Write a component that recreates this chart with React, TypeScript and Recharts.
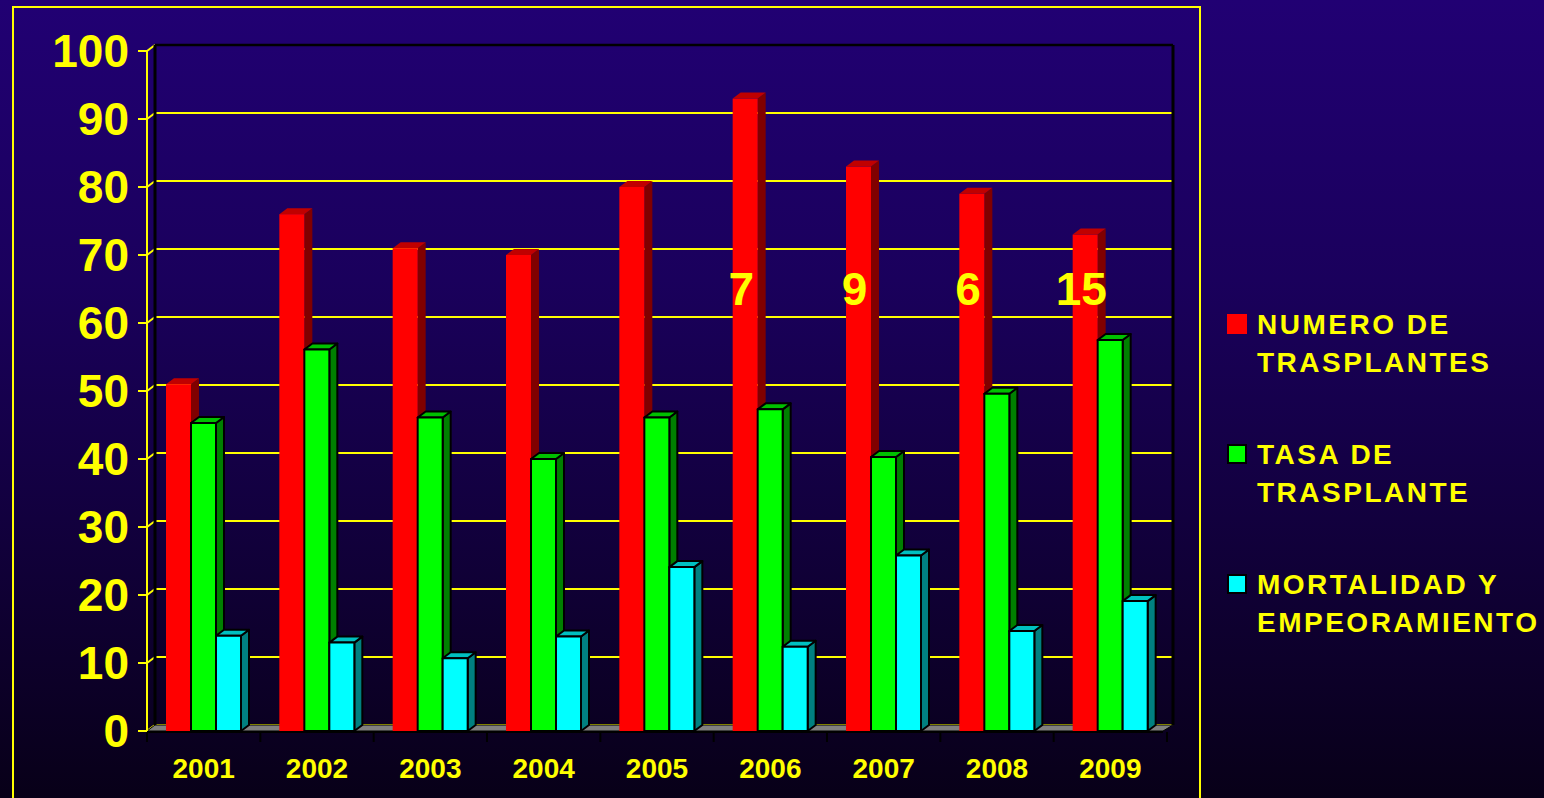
import React from 'react';
import { ComposedChart, Bar, XAxis, YAxis, CartesianGrid, Legend, ReferenceDot } from 'recharts';

const years = ['2001', '2002', '2003', '2004', '2005', '2006', '2007', '2008', '2009'];
const trasplantes = [51, 76, 71, 70, 80, 93, 83, 79, 73];
const tasa = [45.3, 56.1, 46.1, 40, 46.1, 47.3, 40.3, 49.6, 57.5];
const mortalidad = [14, 13, 10.7, 13.9, 24.1, 12.4, 25.8, 14.7, 19.1];
const yTicks = [0, 10, 20, 30, 40, 50, 60, 70, 80, 90, 100];
const noteYears = ['2006', '2007', '2008', '2009'];
const noteTexts = ['7', '9', '6', '15'];
const seriesNames = ['NUMERO DE\nTRASPLANTES', 'TASA DE\nTRASPLANTE', 'MORTALIDAD Y\nEMPEORAMIENTO'];
const seriesColors = ['#ff0000', '#00ff00', '#00ffff'];

const data = years.map((year, i) => ({ year, a: trasplantes[i], b: tasa[i], c: mortalidad[i] }));

const FONT = '"Liberation Sans", Arial, Helvetica, sans-serif';
const YELLOW = '#ffff00';
const DX = 8;
const DY = -6;
const NOTE_LEVEL = 65;

const make3D = (front: string, top: string, side: string, outline: boolean) => (props: any) => {
  const { x, y, width: w, height: h } = props;
  if (x == null || y == null || !w || h == null) return <g />;
  const st = outline
    ? { stroke: '#000', strokeWidth: 2, strokeLinejoin: 'round' as const }
    : { stroke: 'none' };
  return (
    <g>
      <polygon
        points={`${x + w},${y} ${x + w + DX},${y + DY} ${x + w + DX},${y + h + DY} ${x + w},${y + h}`}
        fill={side}
        {...st}
      />
      <polygon
        points={`${x},${y} ${x + DX},${y + DY} ${x + w + DX},${y + DY} ${x + w},${y}`}
        fill={top}
        {...st}
      />
      <rect x={x} y={y} width={w} height={h} fill={front} {...st} />
    </g>
  );
};

const redShape = make3D('#ff0000', '#c00000', '#800000', false);
const greenShape = make3D('#00ff00', '#00c000', '#008000', true);
const cyanShape = make3D('#00ffff', '#00c0c0', '#008080', true);

const gridLine = (p: any) => {
  const { x1, y1, x2, key } = p;
  return (
    <g key={key}>
      <line x1={x1} y1={y1} x2={x1 + DX} y2={y1 + DY} stroke={YELLOW} strokeWidth={2} />
      <line x1={x1 + DX} y1={y1 + DY} x2={x2 + DX - 2} y2={y1 + DY} stroke={YELLOW} strokeWidth={2} />
    </g>
  );
};

const topEdge = (p: any) => {
  const { x1, y1, x2, key } = p;
  return <line key={key} x1={x1 + DX} y1={y1 + DY} x2={x2 + DX - 2} y2={y1 + DY} stroke="#000" strokeWidth={2.5} />;
};

const wallEdge = (p: any) => {
  const { x1, y1, y2, key } = p;
  return <line key={key} x1={x1 + DX} y1={y1 + DY} x2={x1 + DX} y2={y2 + DY} stroke="#000" strokeWidth={3} />;
};

const floorEdge = (p: any) => {
  const { x1, y1, x2, key } = p;
  return (
    <g key={key}>
      <polygon points={`${x1},${y1} ${x1 + DX},${y1 + DY} ${x2 + DX - 2},${y1 + DY} ${x2 - 4},${y1}`} fill="#808080" stroke="#000" strokeWidth={1} />
      <line x1={x1} y1={y1 + 1} x2={x2 - 4} y2={y1 + 1} stroke="#000" strokeWidth={2} />
    </g>
  );
};

const catTick = (p: any) => {
  const { x1, y2, key } = p;
  return <line key={key} x1={x1} y1={y2 + 1} x2={x1} y2={y2 + 11} stroke="#000" strokeWidth={2} />;
};

const YTick = (props: any) => {
  const { x, y, payload } = props;
  return (
    <text x={x} y={y} dy={16} textAnchor="end" fill={YELLOW} fontSize={46} fontWeight={700} fontFamily={FONT}>
      {payload.value}
    </text>
  );
};

const XTick = (props: any) => {
  const { x, y, payload } = props;
  return (
    <text x={x} y={y + 47} textAnchor="middle" fill={YELLOW} fontSize={28} fontWeight={700} fontFamily={FONT}>
      {payload.value}
    </text>
  );
};

const renderLegend = () => (
  <div
    style={{
      fontFamily: FONT,
      fontWeight: 700,
      fontSize: 28,
      lineHeight: '38px',
      letterSpacing: '2.5px',
      color: YELLOW,
    }}
  >
    {seriesNames.map((name, i) => (
      <div key={name} style={{ position: 'relative', height: 130, paddingLeft: 30, whiteSpace: 'pre-line' }}>
        <span
          style={{
            position: 'absolute',
            left: 0,
            top: 8,
            width: 20,
            height: 20,
            background: seriesColors[i],
            border: i > 0 ? '2px solid #000' : 'none',
            boxSizing: 'border-box',
          }}
        />
        {name}
      </div>
    ))}
  </div>
);

export default function App() {
  return (
    <div
      style={{
        position: 'absolute',
        left: 0,
        top: 0,
        width: 1544,
        height: 798,
        overflow: 'hidden',
        background: 'linear-gradient(180deg, #210073 0%, #1a005c 35%, #12003e 65%, #080018 100%)',
      }}
    >
      <div
        style={{
          position: 'absolute',
          left: 12,
          top: 6,
          width: 1189,
          height: 840,
          border: '2px solid #ffff00',
          boxSizing: 'border-box',
        }}
      />
      <ComposedChart
        width={1544}
        height={798}
        data={data}
        margin={{ top: 51, right: 377, bottom: 0, left: 0 }}
        barSize={25}
        barGap={0}
      >
        <CartesianGrid horizontal={gridLine} vertical={false} stroke={YELLOW} />
        <CartesianGrid
          horizontalCoordinatesGenerator={({ offset }: any) => [offset.top]}
          verticalCoordinatesGenerator={({ offset }: any) => [offset.left, offset.left + offset.width - 2]}
          horizontal={topEdge}
          vertical={wallEdge}
        />
        <CartesianGrid
          horizontalCoordinatesGenerator={({ offset }: any) => [offset.top + offset.height]}
          verticalCoordinatesGenerator={({ offset }: any) =>
            years.map((_, i) => offset.left + (i * offset.width) / years.length).concat([offset.left + offset.width])
          }
          horizontal={floorEdge}
          vertical={catTick}
        />
        <XAxis
          dataKey="year"
          height={67}
          axisLine={false}
          tickLine={false}
          tickSize={0}
          tickMargin={0}
          tick={<XTick />}
          interval={0}
        />
        <YAxis
          width={147}
          domain={[0, 100]}
          ticks={yTicks}
          interval={0}
          axisLine={{ stroke: YELLOW, strokeWidth: 2 }}
          tickLine={{ stroke: YELLOW, strokeWidth: 2 }}
          tickSize={9}
          tickMargin={9}
          tick={<YTick />}
        />
        <Bar dataKey="a" name={seriesNames[0]} fill={seriesColors[0]} shape={redShape} isAnimationActive={false} />
        <Bar dataKey="b" name={seriesNames[1]} fill={seriesColors[1]} shape={greenShape} isAnimationActive={false} />
        <Bar dataKey="c" name={seriesNames[2]} fill={seriesColors[2]} shape={cyanShape} isAnimationActive={false} />
        {noteYears.map((yr, i) => (
          <ReferenceDot
            key={yr}
            x={yr}
            y={NOTE_LEVEL}
            r={0}
            ifOverflow="visible"
            shape={(p: any) => (
              <text
                x={p.cx - 29}
                y={p.cy}
                dy={16}
                textAnchor="middle"
                fill={YELLOW}
                fontSize={46}
                fontWeight={700}
                fontFamily={FONT}
              >
                {noteTexts[i]}
              </text>
            )}
          />
        ))}
        <Legend
          layout="horizontal"
          align="center"
          verticalAlign="middle"
          content={renderLegend}
          wrapperStyle={{ left: 1227, top: 306, width: 317 }}
        />
      </ComposedChart>
    </div>
  );
}
